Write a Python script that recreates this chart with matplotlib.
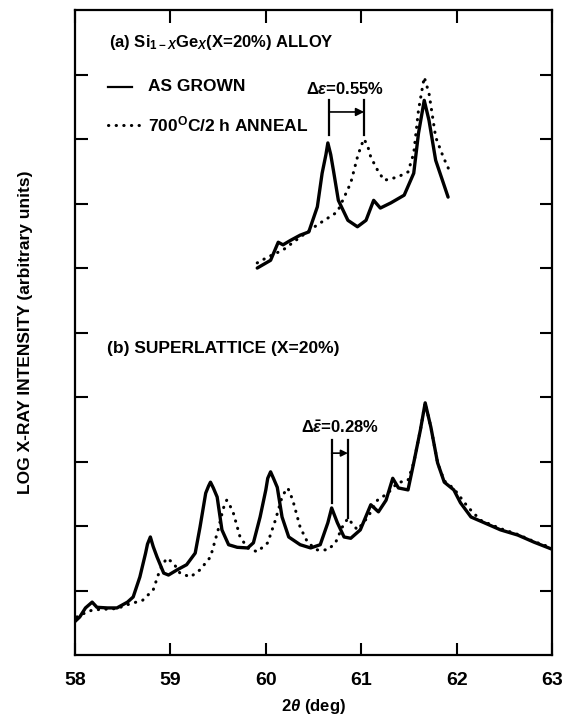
import matplotlib
matplotlib.use('Agg')
import matplotlib.pyplot as plt

plt.rcParams['font.family'] = ['Liberation Sans', 'DejaVu Sans']
plt.rcParams['font.weight'] = 'bold'
plt.rcParams['mathtext.fontset'] = 'custom'
plt.rcParams['mathtext.rm'] = 'Liberation Sans:bold'
plt.rcParams['mathtext.it'] = 'Liberation Sans:italic:bold'
plt.rcParams['mathtext.bf'] = 'Liberation Sans:bold'

# (a) Si1-xGex alloy, as grown
a_grown_x = [59.91, 60.05, 60.13, 60.18, 60.26, 60.36, 60.45, 60.54, 60.59, 60.63,
             60.65, 60.68, 60.71, 60.76, 60.86, 60.96, 61.05, 61.13, 61.20, 61.31,
             61.45, 61.55, 61.60, 61.66, 61.71, 61.78, 61.86, 61.91]
a_grown_y = [6.00, 6.12, 6.40, 6.36, 6.43, 6.51, 6.56, 6.95, 7.47, 7.76,
             7.94, 7.76, 7.50, 7.05, 6.74, 6.64, 6.74, 7.05, 6.93, 7.01,
             7.13, 7.47, 8.09, 8.60, 8.29, 7.67, 7.32, 7.10]

# (a) 700C / 2 h anneal
a_anneal_x = [59.91, 60.02, 60.18, 60.36, 60.54, 60.75, 60.89, 60.96, 61.00, 61.03,
              61.07, 61.10, 61.17, 61.24, 61.38, 61.49, 61.55, 61.60, 61.66, 61.71,
              61.78, 61.86, 61.93]
a_anneal_y = [6.08, 6.17, 6.28, 6.48, 6.67, 6.87, 7.32, 7.72, 7.90, 8.00,
              7.88, 7.72, 7.52, 7.36, 7.41, 7.49, 7.78, 8.45, 8.96, 8.71,
              8.03, 7.72, 7.49]

# (b) superlattice, as grown
b_grown_x = [58.00, 58.05, 58.11, 58.18, 58.23, 58.34, 58.44, 58.55, 58.61, 58.68,
             58.74, 58.76, 58.79, 58.82, 58.86, 58.93, 58.98, 59.07, 59.17, 59.26,
             59.31, 59.37, 59.40, 59.42, 59.45, 59.49, 59.54, 59.61, 59.70, 59.81,
             59.87, 59.94, 60.00, 60.02, 60.05, 60.08, 60.12, 60.17, 60.24, 60.36,
             60.47, 60.57, 60.65, 60.69, 60.75, 60.82, 60.89, 60.99, 61.10, 61.18,
             61.26, 61.33, 61.39, 61.49, 61.55, 61.62, 61.67, 61.73, 61.80, 61.87,
             61.97, 62.04, 62.15, 62.29, 62.46, 62.64, 62.81, 63.00]
b_grown_y = [0.52, 0.59, 0.73, 0.82, 0.74, 0.73, 0.73, 0.82, 0.90, 1.21,
             1.58, 1.72, 1.83, 1.68, 1.52, 1.27, 1.24, 1.32, 1.40, 1.58,
             1.98, 2.51, 2.62, 2.68, 2.59, 2.45, 1.94, 1.71, 1.67, 1.66,
             1.74, 2.14, 2.56, 2.74, 2.84, 2.74, 2.60, 2.14, 1.83, 1.71,
             1.66, 1.71, 2.05, 2.28, 2.05, 1.83, 1.81, 1.94, 2.33, 2.22,
             2.40, 2.74, 2.59, 2.56, 2.98, 3.49, 3.91, 3.53, 2.98, 2.68,
             2.56, 2.36, 2.14, 2.05, 1.94, 1.86, 1.75, 1.64]

# (b) superlattice, annealed
b_anneal_x = [58.02, 58.13, 58.19, 58.44, 58.55, 58.71, 58.82, 58.89, 58.96, 59.03,
              59.10, 59.21, 59.31, 59.42, 59.50, 59.55, 59.57, 59.59, 59.62, 59.66,
              59.73, 59.81, 59.91, 60.02, 60.10, 60.17, 60.20, 60.23, 60.26, 60.29,
              60.36, 60.44, 60.54, 60.65, 60.73, 60.80, 60.86, 60.96, 61.07, 61.17,
              61.28, 61.38, 61.49, 61.55, 61.62, 61.67, 61.73, 61.80, 61.87, 61.97,
              62.12, 62.25, 62.46, 62.64, 62.81, 63.00]
b_anneal_y = [0.59, 0.67, 0.70, 0.72, 0.78, 0.85, 1.01, 1.32, 1.50, 1.43,
              1.27, 1.21, 1.32, 1.52, 1.94, 2.25, 2.34, 2.40, 2.33, 2.20,
              1.83, 1.66, 1.60, 1.74, 2.09, 2.45, 2.53, 2.59, 2.49, 2.36,
              1.98, 1.74, 1.63, 1.63, 1.74, 1.98, 2.12, 1.94, 2.14, 2.40,
              2.51, 2.67, 2.71, 2.98, 3.49, 3.91, 3.53, 2.98, 2.70, 2.58,
              2.29, 2.09, 1.96, 1.87, 1.76, 1.66]

x_ticks = [58, 59, 60, 61, 62, 63]
y_ticks = [1, 2, 3, 4, 5, 6, 7, 8, 9]

fig = plt.figure(figsize=(5.68, 7.19), dpi=100)
ax = fig.add_axes([0.132, 0.089, 0.840, 0.897])

solid = dict(color='black', lw=2.4, solid_joinstyle='round', solid_capstyle='round')
dotted = dict(color='black', lw=2.2, linestyle=(0, (0.1, 2.4)), dash_capstyle='round')

ax.plot(a_grown_x, a_grown_y, **solid)
ax.plot(a_anneal_x, a_anneal_y, **dotted)
ax.plot(b_grown_x, b_grown_y, **solid)
ax.plot(b_anneal_x, b_anneal_y, **dotted)

ax.set_xlim(58, 63)
ax.set_ylim(0, 10)
ax.set_xticks(x_ticks)
ax.set_yticks(y_ticks)
ax.set_yticklabels([])
ax.tick_params(direction='in', length=9, width=1.5, top=True, right=True,
               labelsize=14, pad=12)
for lab in ax.get_xticklabels():
    lab.set_fontweight('bold')
for s in ax.spines.values():
    s.set_linewidth(1.6)

ax.set_xlabel(r'2$\theta$ (deg)', fontsize=12, fontweight='bold', labelpad=6)
ax.set_ylabel('LOG X-RAY INTENSITY (arbitrary units)', fontsize=12.5, fontweight='bold')
ax.yaxis.set_label_coords(-0.088, 0.5)

# panel labels and legend
ax.text(58.36, 9.50, r'(a) Si$_{1-X}$Ge$_X$(X=20%) ALLOY', fontsize=12, va='center')
ax.plot([58.35, 58.60], [8.81, 8.81], color='black', lw=1.6)
ax.text(58.77, 8.81, 'AS GROWN', fontsize=12.5, va='center')
ax.plot([58.35, 58.68], [8.22, 8.22], **dotted)
ax.text(58.77, 8.22, r'700$^\mathrm{O}$C/2 h ANNEAL', fontsize=12.5, va='center')
ax.text(58.34, 4.76, '(b) SUPERLATTICE (X=20%)', fontsize=12.5, va='center')

# strain shift markers
ax.plot([60.66, 60.66], [8.06, 8.60], color='black', lw=1.6)
ax.plot([61.03, 61.03], [8.06, 8.60], color='black', lw=1.6)
ax.annotate('', xy=(61.03, 8.42), xytext=(60.66, 8.42),
            arrowprops=dict(arrowstyle='-|>', color='black', lw=1.2,
                            mutation_scale=12, shrinkA=0, shrinkB=0))
ax.text(60.83, 8.78, r'$\Delta\varepsilon$=0.55%', fontsize=12, ha='center', va='center')

ax.plot([60.69, 60.69], [2.36, 3.33], color='black', lw=1.6)
ax.plot([60.86, 60.86], [2.12, 3.33], color='black', lw=1.6)
ax.annotate('', xy=(60.86, 3.13), xytext=(60.69, 3.13),
            arrowprops=dict(arrowstyle='-|>', color='black', lw=1.2,
                            mutation_scale=10, shrinkA=0, shrinkB=0))
ax.text(60.78, 3.53, r'$\Delta\bar{\varepsilon}$=0.28%', fontsize=12, ha='center', va='center')

fig.savefig('out.png', dpi=100)
